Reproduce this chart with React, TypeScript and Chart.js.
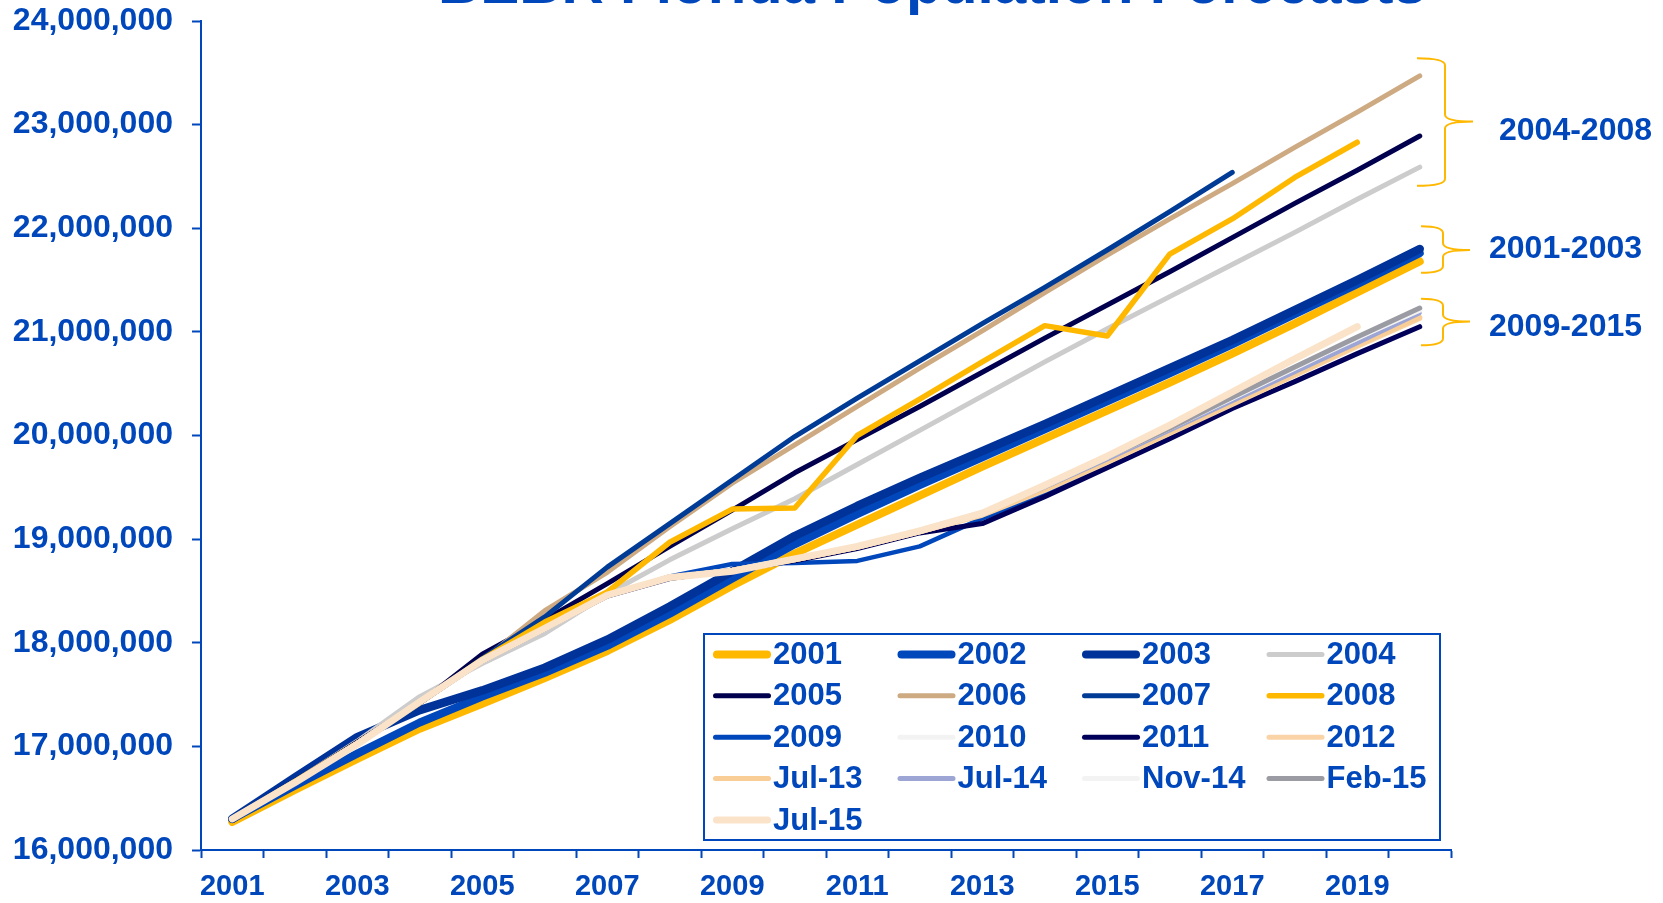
import React, { useEffect, useRef } from 'react';
import { Chart, registerables } from 'chart.js';

Chart.register(...registerables);

const FONT = '"Liberation Sans", Arial, Helvetica, sans-serif';
const BLUE = '#0047BB';
const GOLD = '#FFB800';

const TITLE = 'BEBR Florida Population Forecasts';

const years = ['2001', '2002', '2003', '2004', '2005', '2006', '2007', '2008', '2009', '2010',
  '2011', '2012', '2013', '2014', '2015', '2016', '2017', '2018', '2019', '2020'];
const xTickLabels = ['2001', '', '2003', '', '2005', '', '2007', '', '2009', '',
  '2011', '', '2013', '', '2015', '', '2017', '', '2019', ''];

// population forecasts, one array per forecast vintage
const f2001 = [16270000, 16580000, 16880000, 17170000, 17410000, 17660000, 17920000, 18220000, 18550000, 18860000,
  19140000, 19420000, 19700000, 19970000, 20240000, 20510000, 20790000, 21080000, 21380000, 21680000];
const f2002 = [16300000, 16620000, 16930000, 17230000, 17480000, 17710000, 17970000, 18280000, 18620000, 18950000,
  19240000, 19520000, 19790000, 20060000, 20330000, 20600000, 20880000, 21170000, 21460000, 21760000];
const f2003 = [16300000, 16700000, 17090000, 17350000, 17540000, 17760000, 18030000, 18350000, 18690000, 19030000,
  19320000, 19590000, 19850000, 20110000, 20380000, 20650000, 20920000, 21210000, 21500000, 21800000];
const f2004 = [16300000, 16660000, 17050000, 17480000, 17800000, 18090000, 18470000, 18800000, 19100000, 19390000,
  19720000, 20050000, 20380000, 20710000, 21030000, 21340000, 21650000, 21960000, 22280000, 22590000];
const f2005 = [16300000, 16660000, 17040000, 17420000, 17890000, 18220000, 18570000, 18930000, 19280000, 19640000,
  19960000, 20280000, 20610000, 20940000, 21260000, 21580000, 21910000, 22240000, 22560000, 22890000];
const f2006 = [16300000, 16660000, 17030000, 17430000, 17830000, 18310000, 18680000, 19120000, 19540000, 19910000,
  20280000, 20650000, 21010000, 21380000, 21740000, 22090000, 22430000, 22780000, 23120000, 23470000];
const f2007 = [16300000, 16660000, 17030000, 17420000, 17850000, 18250000, 18730000, 19150000, 19570000, 19990000,
  20360000, 20720000, 21080000, 21430000, 21790000, 22160000, 22540000, null, null, null];
const f2008 = [16300000, 16660000, 17030000, 17420000, 17840000, 18200000, 18490000, 18970000, 19290000, 19300000,
  20000000, 20350000, 20710000, 21060000, 20960000, 21750000, 22090000, 22490000, 22830000, null];
const f2009 = [16300000, 16650000, 17020000, 17420000, 17820000, 18130000, 18450000, 18640000, 18760000, 18770000,
  18790000, 18930000, 19200000, 19430000, 19740000, 20040000, 20340000, 20640000, 20940000, 21220000];
const f2010 = [16300000, 16650000, 17030000, 17430000, 17830000, 18140000, 18460000, 18630000, 18700000, 18810000,
  18930000, 19090000, 19260000, 19520000, 19800000, 20090000, 20380000, 20660000, 20940000, 21200000];
const f2011 = [16300000, 16650000, 17020000, 17420000, 17830000, 18140000, 18450000, 18620000, 18700000, 18790000,
  18910000, 19060000, 19150000, 19410000, 19690000, 19970000, 20260000, 20520000, 20790000, 21050000];
const f2012 = [16300000, 16650000, 17030000, 17430000, 17830000, 18140000, 18460000, 18630000, 18700000, 18800000,
  18920000, 19070000, 19230000, 19470000, 19740000, 20020000, 20300000, 20580000, 20860000, 21130000];
const fJul13 = [16300000, 16650000, 17030000, 17430000, 17830000, 18140000, 18460000, 18630000, 18700000, 18800000,
  18920000, 19070000, 19240000, 19480000, 19750000, 20030000, 20310000, 20590000, 20870000, 21140000];
const fJul14 = [16300000, 16650000, 17030000, 17430000, 17830000, 18140000, 18460000, 18630000, 18700000, 18810000,
  18930000, 19080000, 19250000, 19500000, 19770000, 20050000, 20330000, 20610000, 20890000, 21180000];
const fNov14 = [16300000, 16650000, 17030000, 17430000, 17830000, 18140000, 18460000, 18630000, 18700000, 18810000,
  18930000, 19080000, 19250000, 19510000, 19790000, 20070000, 20360000, 20650000, 20940000, 21210000];
const fFeb15 = [16300000, 16650000, 17030000, 17430000, 17830000, 18140000, 18460000, 18630000, 18700000, 18810000,
  18930000, 19080000, 19250000, 19510000, 19790000, 20070000, 20370000, 20660000, 20950000, 21230000];
const fJul15 = [16300000, 16650000, 17020000, 17430000, 17830000, 18140000, 18460000, 18630000, 18690000, 18810000,
  18930000, 19080000, 19250000, 19520000, 19800000, 20100000, 20420000, 20740000, 21050000, null];

const seriesLabels = ['2001', '2002', '2003', '2004', '2005', '2006', '2007', '2008', '2009', '2010',
  '2011', '2012', 'Jul-13', 'Jul-14', 'Nov-14', 'Feb-15', 'Jul-15'];
const seriesData = [f2001, f2002, f2003, f2004, f2005, f2006, f2007, f2008, f2009, f2010,
  f2011, f2012, fJul13, fJul14, fNov14, fFeb15, fJul15];
const seriesColors = ['#FFB800', '#0047BB', '#003399', '#CCCCCC', '#00004F', '#CDAA82', '#003C96', '#FFB800',
  '#0047BB', '#F3F3F3', '#00005A', '#FAD4A6', '#F9CD96', '#9CA5D4', '#F3F3F3', '#9B9BA3', '#FAE3C9'];
const seriesWidths = [8, 8, 8.5, 5, 5, 5, 5, 5.5, 4.5, 5, 5, 5, 5, 4, 5, 5, 7];

// bracket annotations
const bracketLabels = ['2004-2008', '2001-2003', '2009-2015'];
const bracketTop = [23640000, 22020000, 21320000];
const bracketTip = [23030000, 21790000, 21100000];
const bracketBottom = [22410000, 21570000, 20870000];
const bracketText = [22940000, 21800000, 21050000];

const titlePlugin = {
  id: 'slideTitle',
  afterDraw(chart: any) {
    const ctx = chart.ctx;
    ctx.save();
    ctx.font = `bold 58.5px ${FONT}`;
    ctx.fillStyle = BLUE;
    ctx.textAlign = 'center';
    ctx.textBaseline = 'alphabetic';
    ctx.fillText(TITLE, 932, 3);
    ctx.restore();
  },
};

const bracketPlugin = {
  id: 'brackets',
  afterDraw(chart: any) {
    const ctx = chart.ctx;
    const y = chart.scales.y;
    const R = chart.chartArea.right;
    ctx.save();
    bracketLabels.forEach((lab, i) => {
      const top = y.getPixelForValue(bracketTop[i]);
      const mid = y.getPixelForValue(bracketTip[i]);
      const bot = y.getPixelForValue(bracketBottom[i]);
      const big = i === 0;
      const x0 = R - (big ? 34 : 30);
      const x1 = R - (big ? 6 : 8);
      const x2 = R + (big ? 22 : 19);
      const r = 7;
      ctx.beginPath();
      ctx.moveTo(x0, top);
      ctx.quadraticCurveTo(x1, top, x1, top + r);
      ctx.lineTo(x1, mid - r);
      ctx.quadraticCurveTo(x1, mid, x2, mid);
      ctx.quadraticCurveTo(x1, mid, x1, mid + r);
      ctx.lineTo(x1, bot - r);
      ctx.quadraticCurveTo(x1, bot, x0, bot);
      ctx.strokeStyle = GOLD;
      ctx.lineWidth = 2;
      ctx.stroke();
      ctx.font = `bold 32px ${FONT}`;
      ctx.fillStyle = BLUE;
      ctx.textAlign = 'left';
      ctx.textBaseline = 'middle';
      ctx.fillText(lab, R + (big ? 48 : 38), y.getPixelForValue(bracketText[i]));
    });
    ctx.restore();
  },
};

const legendPlugin = {
  id: 'boxLegend',
  afterDraw(chart: any) {
    const ctx = chart.ctx;
    const L = 704, T = 634, W = 736, H = 206;
    const cols = 4, colW = 184.5, rowH = 41.4, padX = 9, padY = 20.4, sw = 58, gap = 2;
    ctx.save();
    ctx.fillStyle = '#FFFFFF';
    ctx.fillRect(L, T, W, H);
    ctx.lineWidth = 2;
    ctx.strokeStyle = BLUE;
    ctx.strokeRect(L, T, W, H);
    chart.data.datasets.forEach((ds: any, i: number) => {
      const r = Math.floor(i / cols);
      const c = i % cols;
      const x = L + padX + c * colW;
      const yy = T + padY + r * rowH;
      const lw = Math.max(5, Math.min(8, ds.borderWidth));
      ctx.beginPath();
      ctx.lineCap = 'round';
      ctx.lineWidth = lw;
      ctx.strokeStyle = ds.borderColor;
      ctx.moveTo(x + lw / 2, yy);
      ctx.lineTo(x + sw - lw / 2, yy);
      ctx.stroke();
      ctx.font = `bold 31px ${FONT}`;
      ctx.fillStyle = BLUE;
      ctx.textAlign = 'left';
      ctx.textBaseline = 'middle';
      ctx.fillText(ds.label, x + sw + gap, yy + 1);
    });
    ctx.restore();
  },
};

export default function App() {
  const ref = useRef<HTMLCanvasElement | null>(null);
  useEffect(() => {
    if (!ref.current) return;
    const datasets = seriesLabels.map((label, i) => ({
      label,
      data: seriesData[i],
      borderColor: seriesColors[i],
      backgroundColor: seriesColors[i],
      borderWidth: seriesWidths[i],
      borderCapStyle: 'round' as const,
      borderJoinStyle: 'round' as const,
      pointRadius: 0,
      pointHoverRadius: 0,
      tension: 0,
      fill: false,
      spanGaps: false,
      order: -i,
    }));
    const chart = new Chart(ref.current, {
      type: 'line',
      data: { labels: years, datasets },
      options: {
        responsive: false,
        animation: false,
        devicePixelRatio: 1,
        layout: { padding: { top: 21, right: 212, bottom: 0, left: 0 } },
        plugins: {
          legend: { display: false },
          title: { display: false },
          tooltip: { enabled: false },
        },
        scales: {
          x: {
            type: 'category',
            offset: true,
            afterFit: (s: any) => { s.height = 53; s.paddingLeft = 0; s.paddingRight = 0; },
            grid: {
              offset: true,
              drawOnChartArea: false,
              drawTicks: true,
              tickLength: 8,
              tickWidth: 2,
              tickColor: BLUE,
            },
            border: { display: true, color: BLUE, width: 2 },
            ticks: {
              autoSkip: false,
              maxRotation: 0,
              minRotation: 0,
              padding: 12,
              color: BLUE,
              font: { family: FONT, size: 29, weight: 'bold' },
              callback: (_v: any, i: number) => xTickLabels[i],
            },
          },
          y: {
            min: 16000000,
            max: 24000000,
            afterFit: (s: any) => { s.width = 201; s.paddingTop = 0; s.paddingBottom = 0; },
            grid: {
              drawOnChartArea: false,
              drawTicks: true,
              tickLength: 9,
              tickWidth: 2,
              tickColor: BLUE,
            },
            border: { display: true, color: BLUE, width: 2 },
            ticks: {
              stepSize: 1000000,
              padding: 19,
              color: BLUE,
              font: { family: FONT, size: 32, weight: 'bold' },
              callback: (v: any) => Number(v).toLocaleString('en-US'),
            },
          },
        },
      },
      plugins: [bracketPlugin, legendPlugin, titlePlugin],
    });
    return () => chart.destroy();
  }, []);
  return (
    <div style={{ position: 'fixed', left: 0, top: 0, width: 1663, height: 903, background: '#FFFFFF' }}>
      <canvas ref={ref} width={1663} height={903} style={{ display: 'block' }} />
    </div>
  );
}
